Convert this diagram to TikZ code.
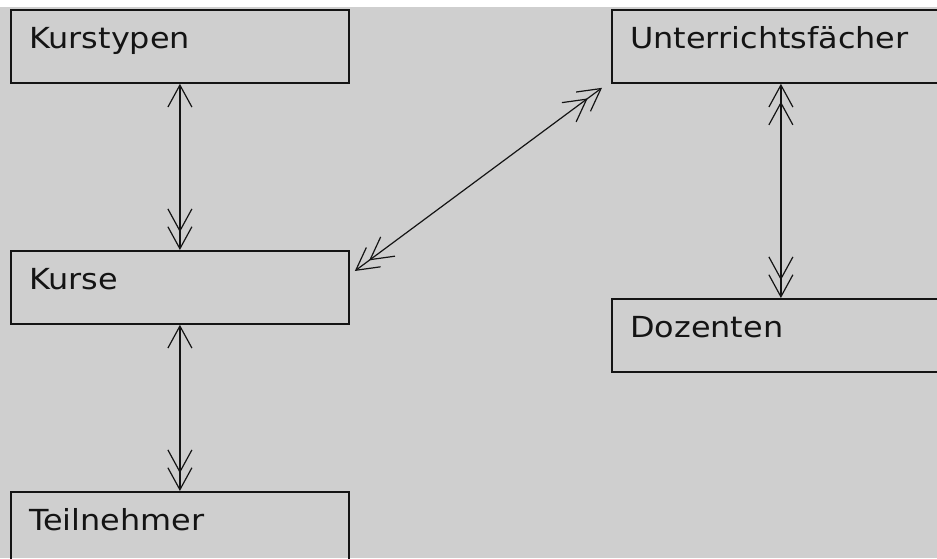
\documentclass[tikz,border=0pt]{standalone}
\usepackage{fontspec}
\newfontfamily\guifont[FakeStretch=1.1]{DejaVu Sans}
\usepackage{tikz}
\usetikzlibrary{arrows.meta,calc}

\definecolor{bggray}{HTML}{CFCFCF}
\definecolor{ink}{HTML}{141414}

\tikzset{
  tabelle/.style={draw=ink, line width=1.8pt, minimum width=338pt, minimum height=73pt,
    inner sep=0pt, anchor=north west},
  titel/.style={anchor=base west, inner sep=0pt, font=\guifont\fontsize{29}{34}\selectfont, text=ink},
  bez/.style={draw=ink, line width=1.2pt},
  barb/.tip={Straight Barb[length=22pt,width=24pt]},
  dbarb/.tip={Straight Barb[length=22pt,width=24pt,sep=-6pt] Straight Barb[length=22pt,width=24pt]}
}

\begin{document}
\begin{tikzpicture}[x=1pt,y=-1pt]
  \useasboundingbox (0,0) rectangle (937,558);
  \fill[white] (0,0) rectangle (937,558);
  \fill[bggray] (0,7) rectangle (937,558); %grauer Hintergrund
  \begin{scope}
    \clip (0,0) rectangle (937,558); %Kaesten am Rand abschneiden
    %linke Spalte
    \node[tabelle] (kurstypen) at (10,9) {};
    \node[tabelle] (kurse) at (10,250) {};
    \node[tabelle] (teilnehmer) at (10,491) {};
    %rechte Spalte
    \node[tabelle] (faecher) at (611,9) {};
    \node[tabelle] (dozenten) at (611,298) {};
    %Beschriftungen
    \node[titel] (kurstypenT) at ([shift={(19,39)}]kurstypen.north west) {Kurstypen};
    \node[titel] (kurseT) at ([shift={(19,39)}]kurse.north west) {Kurse};
    \node[titel] (teilnehmerT) at ([shift={(19,39)}]teilnehmer.north west) {Teilnehmer};
    \node[titel] (faecherT) at ([shift={(19,39)}]faecher.north west) {Unterrichtsfächer};
    \node[titel] (dozentenT) at ([shift={(19,39)}]dozenten.north west) {Dozenten};
  \end{scope}
  %Beziehungen
  \draw[bez, barb-dbarb] (kurstypen.south) -- (kurse.north);
  \draw[bez, barb-dbarb] (kurse.south) -- (teilnehmer.north);
  \draw[bez, dbarb-dbarb] (faecher.south) -- (dozenten.north);
  \draw[bez, dbarb-dbarb] ([shift={(5,21)}]kurse.north east) -- ([shift={(-9,4)}]faecher.south west);
\end{tikzpicture}
\end{document}
